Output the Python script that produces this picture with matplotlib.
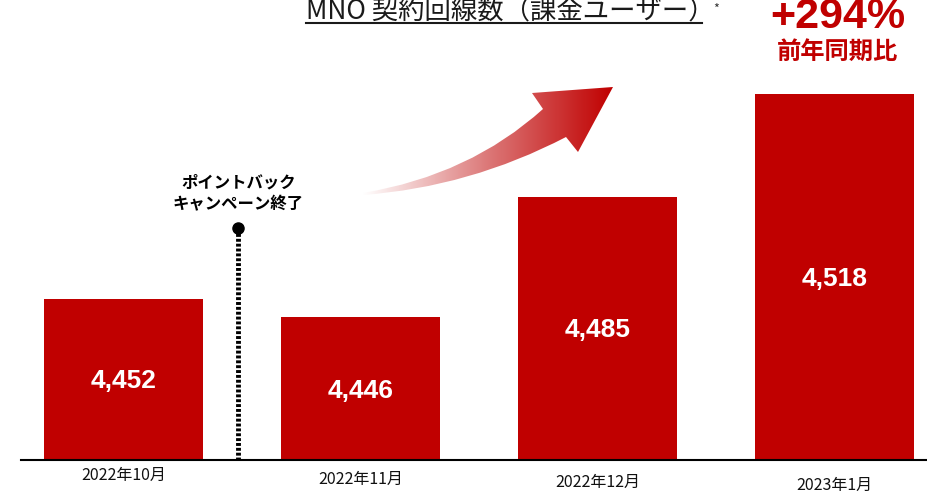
import numpy as np
import matplotlib
matplotlib.use("Agg")
import matplotlib.pyplot as plt
from matplotlib.colors import LinearSegmentedColormap
from matplotlib.patches import PathPatch
from matplotlib.path import Path

plt.rcParams['font.family'] = ['Noto Sans CJK JP', 'DejaVu Sans']

# data
months = ["2022年10月", "2022年11月", "2022年12月", "2023年1月"]
subscribers = [4452, 4446, 4485, 4518]
value_labels = ["4,452", "4,446", "4,485", "4,518"]
title = "MNO 契約回線数（課金ユーザー）"
growth_text = "+294%"
growth_caption = "前年同期比"
campaign_note = "ポイントバック\nキャンペーン終了"

RED = "#C00000"
W, H = 928, 495

fig = plt.figure(figsize=(W / 100, H / 100), dpi=100)

# main bar axes (baseline at y=460 px)
ax = fig.add_axes([21 / W, 35 / H, (W - 21) / W, 460 / H])
x = np.arange(len(months))
ax.bar(x, subscribers, width=0.671, color=RED)
ax.set_xlim(-0.432, 3.394)
ax.set_ylim(4400, 4400 + 460 / 3.1)

for sp in ["top", "right", "left"]:
    ax.spines[sp].set_visible(False)
ax.spines["bottom"].set_linewidth(1.5)
ax.set_yticks([])
ax.set_xticks([])

# value labels, centred in each bar
for xi, v, lab in zip(x, subscribers, value_labels):
    ax.annotate(lab, xy=(xi, (4400 + v) / 2), xytext=(0, -2),
                textcoords="offset pixels", ha="center", va="center",
                color="white", fontsize=19, fontweight="bold",
                family=["Liberation Sans", "DejaVu Sans"])

# month labels (slightly staggered, as in the original slide)
stagger = [15, 19, 22, 25]
for xi, m, dy in zip(x, months, stagger):
    ax.annotate(m, xy=(xi, 0), xycoords=("data", "axes fraction"),
                xytext=(0, -dy), textcoords="offset pixels",
                ha="center", va="center", fontsize=11.5, color="#111111")

# campaign-end marker
mark_x = 0.485
ax.plot([mark_x, mark_x], [4400, 4475], color="black", linewidth=3.5,
        linestyle=(0, (0.6, 0.4)), solid_capstyle="butt")
ax.plot([mark_x], [4475], marker="o", markersize=8, color="black")
ax.annotate(campaign_note, xy=(mark_x, 4475), xytext=(0, 34),
            textcoords="offset pixels", ha="center", va="center",
            fontsize=11.8, fontweight="bold", linespacing=1.25)

# overlay in pixel coordinates for slide decorations
ov = fig.add_axes([0, 0, 1, 1])
ov.axis("off")

ov.text(306, 19.5, title, ha="left", va="baseline", fontsize=19, color="#1a1a1a")
ov.plot([306, 702], [22.5, 22.5], color="#1a1a1a", linewidth=1.5)
ov.text(716, 9, "*", ha="center", va="center", fontsize=9, color="#333333")

ov.text(838, 28.5, growth_text, ha="center", va="baseline", color=RED,
        fontsize=31, fontweight="bold", family=["Liberation Sans", "DejaVu Sans"])
ov.text(838, 52, growth_caption, ha="center", va="center", color=RED,
        fontsize=17.5, fontweight="bold")

# gradient arrow (curved shaft + head)
verts = [(363, 193), (470, 175), (543, 109), (532, 93), (613, 87),
         (578, 152), (566, 137), (470, 187), (363, 195), (363, 193)]
codes = [Path.MOVETO, Path.CURVE3, Path.CURVE3, Path.LINETO, Path.LINETO,
         Path.LINETO, Path.LINETO, Path.CURVE3, Path.CURVE3, Path.CLOSEPOLY]
arrow = PathPatch(Path(verts, codes), facecolor="none", edgecolor="none")
ov.add_patch(arrow)
cmap = LinearSegmentedColormap.from_list(
    "fade", [(0, "#ffffff"), (0.5, "#dc7878"), (1, RED)])
grad = np.linspace(0, 1, 256).reshape(1, -1)
img = ov.imshow(grad, cmap=cmap, aspect="auto", extent=[363, 613, 200, 85],
                interpolation="bilinear")
img.set_clip_path(arrow)
ov.set_xlim(0, W)
ov.set_ylim(H, 0)

fig.savefig("out.png", dpi=100)
